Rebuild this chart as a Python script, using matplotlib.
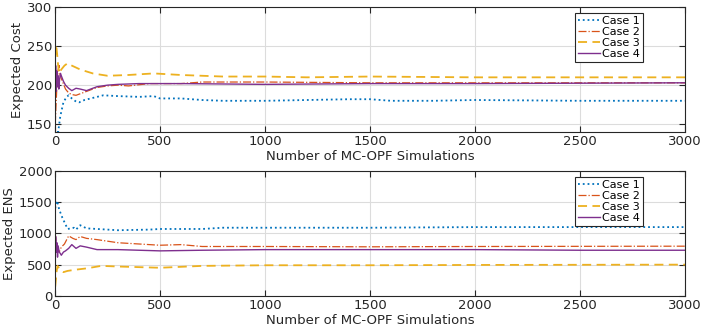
import numpy as np
import matplotlib.pyplot as plt

# top panel: expected cost
x1_cost = [1, 5, 10, 15, 25, 40, 55, 65, 80, 100, 115, 140, 170, 200, 230, 300, 400, 470, 500, 600, 700, 800, 1000, 1200, 1400, 1500, 1600, 1800, 2000, 2500, 3000]
c1_cost = [140, 138, 141, 140, 160, 178, 185, 187, 183, 179, 178, 181, 183, 185, 187, 186, 185, 186, 183, 183, 181, 180, 180, 181, 182, 182, 180, 180, 181, 180, 180]
x2_cost = [1, 5, 10, 15, 20, 25, 35, 50, 65, 80, 100, 130, 160, 200, 250, 300, 350, 450, 600, 700, 1000, 1500, 2000, 3000]
c2_cost = [150, 175, 205, 220, 225, 212, 205, 195, 190, 188, 187, 190, 193, 197, 199, 200, 199, 202, 202, 204, 204, 203, 203, 203]
x3_cost = [1, 5, 10, 15, 20, 30, 45, 60, 80, 120, 180, 250, 350, 470, 600, 800, 1000, 1200, 1500, 2000, 3000]
c3_cost = [238, 252, 240, 225, 215, 220, 225, 228, 225, 220, 215, 212, 213, 215, 213, 211, 211, 210, 211, 210, 210]
x4_cost = [1, 3, 6, 9, 12, 15, 18, 22, 26, 30, 40, 50, 65, 80, 100, 120, 150, 200, 250, 300, 400, 600, 1000, 1500, 2000, 3000]
c4_cost = [200, 225, 192, 218, 198, 212, 195, 208, 215, 212, 205, 200, 196, 193, 196, 195, 193, 198, 200, 201, 202, 202, 201, 202, 202, 203]

# bottom panel: expected ENS
x1_ens = [1, 5, 10, 20, 35, 60, 90, 100, 120, 150, 200, 250, 300, 450, 500, 700, 800, 1000, 1500, 2000, 3000]
c1_ens = [1400, 1480, 1520, 1380, 1250, 1070, 1090, 1060, 1130, 1080, 1070, 1060, 1050, 1060, 1070, 1070, 1090, 1090, 1090, 1100, 1100]
x2_ens = [1, 5, 10, 20, 30, 45, 65, 85, 100, 120, 150, 200, 300, 400, 500, 600, 700, 1000, 1500, 2000, 3000]
c2_ens = [1000, 850, 760, 700, 780, 830, 960, 920, 900, 950, 920, 900, 850, 830, 810, 820, 790, 790, 785, 790, 795]
x3_ens = [1, 4, 8, 12, 20, 30, 40, 60, 100, 150, 220, 300, 500, 700, 1000, 1500, 2000, 3000]
c3_ens = [150, 250, 400, 480, 440, 400, 380, 400, 420, 440, 480, 470, 450, 480, 490, 490, 495, 500]
x4_ens = [1, 3, 6, 9, 12, 15, 20, 25, 30, 40, 50, 65, 80, 100, 120, 150, 200, 300, 500, 700, 1000, 1500, 2000, 2500, 3000]
c4_ens = [500, 950, 700, 850, 620, 800, 700, 680, 650, 700, 720, 760, 820, 760, 800, 780, 740, 740, 720, 730, 740, 740, 740, 730, 730]

cases = ['Case 1', 'Case 2', 'Case 3', 'Case 4']
colors = ['#0072BD', '#D95319', '#EDB120', '#7E2F8E']
styles = [':', '-.', (0, (5, 3)), '-']
widths = [1.3, 0.9, 1.3, 1.0]

plt.rcParams['font.family'] = 'DejaVu Sans'
fig = plt.figure(figsize=(7.2, 3.31), dpi=100)
ax1 = fig.add_axes([0.0764, 0.601, 0.875, 0.378])
ax2 = fig.add_axes([0.0764, 0.106, 0.875, 0.378])

top = [(x1_cost, c1_cost), (x2_cost, c2_cost), (x3_cost, c3_cost), (x4_cost, c4_cost)]
bot = [(x1_ens, c1_ens), (x2_ens, c2_ens), (x3_ens, c3_ens), (x4_ens, c4_ens)]

for ax, data, ylab, ylim, yt in [(ax1, top, 'Expected Cost', (140, 300), [150, 200, 250, 300]),
                                 (ax2, bot, 'Expected ENS', (0, 2000), [0, 500, 1000, 1500, 2000])]:
    for (x, y), lab, c, ls, lw in zip(data, cases, colors, styles, widths):
        ax.plot(x, y, color=c, linestyle=ls, linewidth=lw, label=lab)
    ax.set_xlim(0, 3000)
    ax.set_ylim(*ylim)
    ax.set_yticks(yt)
    ax.set_xticks([0, 500, 1000, 1500, 2000, 2500, 3000])
    ax.grid(True, color='#dcdcdc', linewidth=0.8)
    ax.set_axisbelow(True)
    ax.tick_params(direction='in', top=True, right=True, labelsize=9.5, colors='#262626', length=4, pad=2)
    for s in ax.spines.values():
        s.set_color('#262626')
        s.set_linewidth(0.8)
    ax.set_xlabel('Number of MC-OPF Simulations', fontsize=9.5, color='#262626', labelpad=1.5)
    ax.set_ylabel(ylab, fontsize=9.5, color='#262626', labelpad=2)
    leg = ax.legend(loc='upper right', bbox_to_anchor=(0.933, 0.952), fontsize=8, frameon=True, fancybox=False,
                    handlelength=2.0, handletextpad=0.2, borderpad=0.25, labelspacing=0.1, borderaxespad=0,
                    framealpha=1)
    leg.get_frame().set_edgecolor('#262626')
    leg.get_frame().set_linewidth(0.8)

fig.savefig('out.png', dpi=100)
